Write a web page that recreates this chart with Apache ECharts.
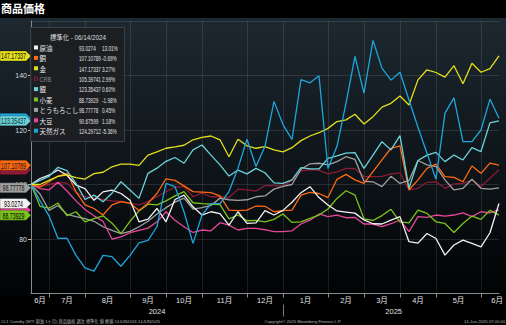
<!DOCTYPE html>
<html><head><meta charset="utf-8">
<script src="https://cdn.jsdelivr.net/npm/echarts@6/dist/echarts.min.js"></script>
<style>html,body{margin:0;padding:0;background:#000;}#c{width:506px;height:325px;}</style>
</head><body><div id="c"></div>
<script>
// ---- data (weekly, normalised to 100 on 06/14/2024) ----
const dates = ['2024-06-14','2024-06-21','2024-06-28','2024-07-05','2024-07-12','2024-07-19','2024-07-26',
'2024-08-02','2024-08-09','2024-08-16','2024-08-23','2024-08-30','2024-09-06','2024-09-13','2024-09-20','2024-09-27',
'2024-10-04','2024-10-11','2024-10-18','2024-10-25','2024-11-01','2024-11-08','2024-11-15','2024-11-22','2024-11-29',
'2024-12-06','2024-12-13','2024-12-20','2024-12-27','2025-01-03','2025-01-10','2025-01-17','2025-01-24','2025-01-31',
'2025-02-07','2025-02-14','2025-02-21','2025-02-28','2025-03-07','2025-03-14','2025-03-21','2025-03-28',
'2025-04-04','2025-04-11','2025-04-18','2025-04-25','2025-05-02','2025-05-09','2025-05-16','2025-05-23','2025-05-30',
'2025-06-06','2025-06-13'];
const crude  = [100,102.2,103.4,105.3,103.4,99.8,98.5,94.2,97.3,97.9,96.7,94.2,86.3,87.3,91.2,86.3,94.5,96.1,91.8,88.8,90,89.3,85.1,90,85.7,85.9,90.4,88.8,90.5,93.5,97,99.2,95.2,92.5,90.3,89.9,89.5,87,85.6,85.5,86.9,88.2,79,78.5,82,80.2,74.1,77.8,79.6,78.4,77.1,82.3,93.0274];
const copper = [100,99,101,103.1,104.1,97.4,92.5,91.2,88.8,92.5,93.7,93.1,90.5,93.1,96.7,102.1,101.5,99.5,97.4,97.2,97,95.8,90.6,90.4,90.6,92.1,92,90,90.4,90.6,96.1,97.1,96.7,95.2,101.9,103.7,101.7,100.4,104.7,109,113.3,114.2,98,101.7,105.9,107.5,102.9,102.6,101,106.8,104.1,107.85,107.10789];
const gold   = [100,100,101.5,103,103.5,102.5,102,104,104.5,106.5,107.5,107.5,107,110.8,112,113.3,113.8,114.4,116.4,117.3,117.8,116.4,110.2,116.6,114.2,113.3,113.9,112.7,112,113.5,116.1,117.8,119,120.6,123.1,123.7,125.8,122.2,124.9,128.4,129.8,132.5,129.2,138.4,142.1,141.1,139.4,143.6,137,144.5,141.2,142.5,147.17337];
const crb    = [100,99.5,100,100.8,100.5,97,95.5,95,94.5,94,93.8,93.2,92.5,93.7,95.5,97.4,99,99.2,95.5,96.8,95.5,95.5,95.2,98.3,98,97.6,99.6,99.6,99.4,101.5,105,105.5,105.2,103.9,104.6,105.9,105.8,102.9,102.9,103,103.9,104.3,98,98.6,100.8,101,98.6,100.2,100.4,101.7,99.2,102.34,105.39741];
const silver = [100,101.5,103,106.3,105.1,100.4,94.5,96.1,93.7,96.8,101,98,94.9,104.1,106,108.5,109.9,107.8,112.7,114.5,110.8,107.2,103.1,105.3,103.9,105.9,104.3,100.6,100.4,101.7,106.2,105.7,105.7,109.6,110.5,111.5,111.7,105.9,110.8,115.7,112.7,117.9,98.6,108.8,110.8,111.8,108.4,110.8,109,113.5,112.1,122.62,123.35437];
const wheat  = [100,92,91.3,93.2,88.6,90,86.3,87.5,88.5,85.8,82,86.5,90.3,92.8,92.5,94,95.8,97.4,93.3,93,92.8,92.6,87.4,88.8,86.7,86.8,86.3,87.2,89.2,86.1,86.3,87.6,88.8,91,94.9,97.7,96.1,87.4,86.8,88.6,90.9,86.3,85.9,90.6,89.4,86.3,85.7,82.4,85.7,88.4,87.2,90.53,88.73929];
const corn   = [100,96.5,90.5,92.3,89,88.2,87.5,86.5,84.5,83.2,82,82.8,84.5,86.5,89.2,91.5,93.5,95,91,91.5,92.3,95,94.4,94.2,94.4,95.5,95.8,98.3,99.3,100,105.6,107.6,107.8,107.2,108.4,110.2,109.2,101.2,101,99.2,103,100.4,101.5,108.8,107.2,106.6,101.7,98,98.6,101.9,98.6,98.34,98.77778];
const soy    = [100,98.5,98,100.8,97.6,94,90.8,88.5,86.5,80,80.8,82.3,83.2,84,86.3,90,86.9,84.5,82.4,83.3,83,86,85.1,83.3,83.9,83.9,83.4,82.7,82.7,83,85.5,86.9,89.2,88.2,88.8,87.8,87.9,85.5,85.5,84.5,85.6,86.9,82.7,88.2,87.9,88.8,88.4,88.8,89.6,88.2,90,89.62,90.67599];
const natgas = [100,94,88.5,80.2,80.3,74,69.4,68.2,74,73.5,70,74,78.6,79.5,84.5,100.4,99.2,90,78.4,88.8,93,93,97.4,106,116.6,106.6,114,130.5,122,116.5,138.5,137.3,139.9,105.9,114,129.8,147,133.5,152.9,142.7,138.3,141.2,131,121,111.5,101.9,126.2,131.8,115.7,115.7,120,131.34,124.29712];

const names = ['原油','銅','金','CRB','銀','小麦','とうもろこし','大豆','天然ガス'];
const weeklyPct = ['13.01%','-0.69%','3.27%','2.99%','0.60%','-1.98%','0.45%','1.18%','-5.36%'];
const monthLabels = ['6月','7月','8月','9月','10月','11月','12月','1月','2月','3月','4月','5月','6月'];
const yearLabels = ['2024','2025'];

// ---- styling ----
const values = [crude, copper, gold, crb, silver, wheat, corn, soy, natgas];
const colors = ['#f2f2f2','#ff6a13','#e4df1c','#8c1b35','#6dd2d8','#7cc41e','#a0a0a0','#e6479b','#1ea6dc'];
const tagTextColor = ['#000','#111','#111','#fff','#0b2a2e','#000','#111','#000','#000'];
const drawOrder = [3,6,7,5,1,0,4,2,8];
const tagOrder = [8,7,3,4,2,1,6,0,5];
const hiddenTagText = new Set([8,7,3]);
const SANS = '"Liberation Sans","Noto Sans CJK JP",sans-serif';
const CJK = '"Noto Sans CJK JP",sans-serif';

// month boundaries (last week of each month) derived from dates
const boundaries = [];
for (let i = 0; i < dates.length - 1; i++) {
  if (dates[i].slice(5,7) !== dates[i+1].slice(5,7)) boundaries.push(i);
}
const bset = new Set(boundaries);
const spans = [0, ...boundaries, dates.length - 1];
const monthPos = [];
for (let k = 0; k < spans.length - 1; k++) monthPos.push((spans[k] + spans[k+1]) / 2);
monthPos[monthPos.length-1] = dates.length - 1.2;
const yearBreak = dates.findIndex((d, i) => i > 0 && d.slice(0,4) !== dates[i-1].slice(0,4)) - 1;
const yearPos = [yearBreak / 2, (yearBreak + dates.length - 1) / 2 + 0.3];

const chart = echarts.init(document.getElementById('c'), null, {renderer: 'svg'});

const series = drawOrder.map((idx, k) => ({
  name: names[idx], type: 'line', data: values[idx], symbol: 'none', showSymbol: false,
  z: 2 + k, animation: false,
  lineStyle: {width: 1.3, color: colors[idx]}, itemStyle: {color: colors[idx]}
}));

const option = {
  backgroundColor: '#000',
  animation: false,
  grid: {left: 31, right: 7, top: 21, bottom: 31.5, containLabel: false},
  xAxis: [
    {type: 'category', data: dates, boundaryGap: false,
     axisLine: {show: true, lineStyle: {color: '#8a8a8a', width: 1}},
     axisTick: {show: true, interval: (i) => bset.has(i), length: 4, lineStyle: {color: '#8a8a8a'}},
     axisLabel: {show: false},
     splitLine: {show: true, interval: (i) => bset.has(i), lineStyle: {color: 'rgba(255,255,255,0.10)', width: 1}}},
    {type: 'value', min: 0, max: dates.length - 1, position: 'bottom',
     axisLine: {show: false}, axisTick: {show: false}, splitLine: {show: false},
     axisLabel: {show: true, customValues: monthPos, margin: 3, color: '#e4e4e4', fontSize: 7.5, fontFamily: SANS,
       formatter: (v) => { const k = monthPos.findIndex(p => Math.abs(p - v) < 1e-6); return k >= 0 ? monthLabels[k] : ''; }}},
    {type: 'value', min: 0, max: dates.length - 1, position: 'bottom', offset: 11,
     axisLine: {show: false}, splitLine: {show: false},
     axisTick: {show: true, customValues: [yearBreak], length: 12, lineStyle: {color: '#7a7a7a'}},
     axisLabel: {show: true, customValues: yearPos, margin: 3, color: '#e0e0e0', fontSize: 7.5, fontFamily: SANS,
       formatter: (v) => { const k = yearPos.findIndex(p => Math.abs(p - v) < 1e-6); return k >= 0 ? yearLabels[k] : ''; }}}
  ],
  yAxis: {
    type: 'value', min: 60, max: 160, interval: 20,
    axisLine: {show: true, lineStyle: {color: '#8a8a8a', width: 1}},
    axisTick: {show: true, length: 3, lineStyle: {color: '#bdbdbd'}},
    axisLabel: {show: true, color: '#dcdcdc', fontSize: 7, fontFamily: SANS, margin: 4,
      showMinLabel: false, showMaxLabel: false},
    splitLine: {show: true, lineStyle: {color: 'rgba(255,255,255,0.11)', width: 1}}
  },
  series: series
};
chart.setOption(option);

// ---- graphics: background, title, legend box, footer, last-value tags ----
const g = [];
g.push({type: 'rect', id: 'bg', z: -10, silent: true, shape: {x: 0, y: 18, width: 506, height: 278},
  style: {fill: {type: 'linear', x: 0, y: 0, x2: 0, y2: 1,
    colorStops: [{offset: 0, color: '#1d2830'}, {offset: 0.5, color: '#0f161b'}, {offset: 1, color: '#010203'}]}}});
g.push({type: 'text', id: 'title', z: 100, x: 1, y: 2,
  style: {text: '商品価格', fill: '#ffffff', font: 'bold 11px "Noto Sans CJK JP", sans-serif'}});

// legend box
g.push({type: 'rect', id: 'lbox', z: 90, silent: true, shape: {x: 30.5, y: 27.5, width: 94, height: 114},
  style: {fill: 'rgba(29,31,34,0.94)', stroke: '#3c4045', lineWidth: 1}});
const d0 = dates[0].split('-');
g.push({type: 'text', id: 'ltitle', z: 100, x: 78, y: 37.5, scaleX: 0.9,
  style: {text: '標準化 - ' + d0[1] + '/' + d0[2] + '/' + d0[0], fill: '#dedede', textAlign: 'center', textVerticalAlign: 'middle',
    font: '7px ' + SANS}});
names.forEach((n, i) => {
  const cy = 47.5 + i * 10.4;
  const v = values[i];
  const isCrb = i === 3;
  g.push({type: 'rect', id: 'lsq' + i, z: 100, silent: true, shape: {x: isCrb ? 34.5 : 34, y: cy - 2 + (isCrb ? 0.5 : 0), width: isCrb ? 3 : 4, height: isCrb ? 3 : 4},
    style: isCrb ? {fill: 'none', stroke: colors[i], lineWidth: 1} : {fill: colors[i]}});
  g.push({type: 'text', id: 'lname' + i, z: 100, silent: true, x: 39.5, y: cy + 0.3, scaleX: isCrb ? 0.8 : 1,
    style: {text: n, fill: isCrb ? '#8a8a8a' : '#e8e8e8', textVerticalAlign: 'middle', font: (isCrb ? '7px ' + SANS : '6.5px ' + CJK)}});
  g.push({type: 'text', id: 'lval' + i, z: 100, silent: true, x: 79, y: cy + 0.3, scaleX: 0.58,
    style: {text: String(v[v.length - 1]), fill: '#e2e2e2', textVerticalAlign: 'middle', font: '8px ' + SANS}});
  g.push({type: 'text', id: 'lpct' + i, z: 100, silent: true, x: 102, y: cy + 0.3, scaleX: 0.58,
    style: {text: weeklyPct[i], fill: '#e2e2e2', textVerticalAlign: 'middle', font: '8px ' + SANS}});
});

// footer
g.push({type: 'text', id: 'f1', z: 100, x: 1, y: 321,
  style: {text: 'CL1 Comdty (WTI 原油 1ヶ月) 商品価格 週次 標準化 値 終値 14JUN2024-14JUN2025', fill: '#b5b5b5', textVerticalAlign: 'middle',
    font: '4.2px ' + SANS}});
g.push({type: 'text', id: 'f2', z: 100, x: 303, y: 321,
  style: {text: 'Copyright© 2025 Bloomberg Finance L.P.', fill: '#b5b5b5', textAlign: 'center', textVerticalAlign: 'middle',
    font: '4.2px ' + SANS}});
g.push({type: 'text', id: 'f3', z: 100, x: 505, y: 321,
  style: {text: '14-Jun-2025 07:00:00', fill: '#b5b5b5', textAlign: 'right', textVerticalAlign: 'middle',
    font: '4.2px ' + SANS}});

// last-value tags on the y axis
tagOrder.forEach((idx, k) => {
  const v = values[idx][values[idx].length - 1];
  const y = chart.convertToPixel({yAxisIndex: 0}, v);
  g.push({type: 'polygon', id: 'tag' + idx, z: 50 + k * 2, silent: true,
    shape: {points: [[0, y - 5], [26, y - 5], [31, y], [26, y + 5], [0, y + 5]]},
    style: {fill: colors[idx], stroke: 'rgba(0,0,0,0.5)', lineWidth: 0.5}});
  if (!hiddenTagText.has(idx)) {
    g.push({type: 'text', id: 'tagt' + idx, z: 51 + k * 2, silent: true, x: 13.5, y: y + 0.5, scaleX: 0.62,
      style: {text: String(v), fill: tagTextColor[idx], textAlign: 'center', textVerticalAlign: 'middle',
        font: '8.5px ' + SANS}});
  }
});
chart.setOption({graphic: g});
</script></body></html>
